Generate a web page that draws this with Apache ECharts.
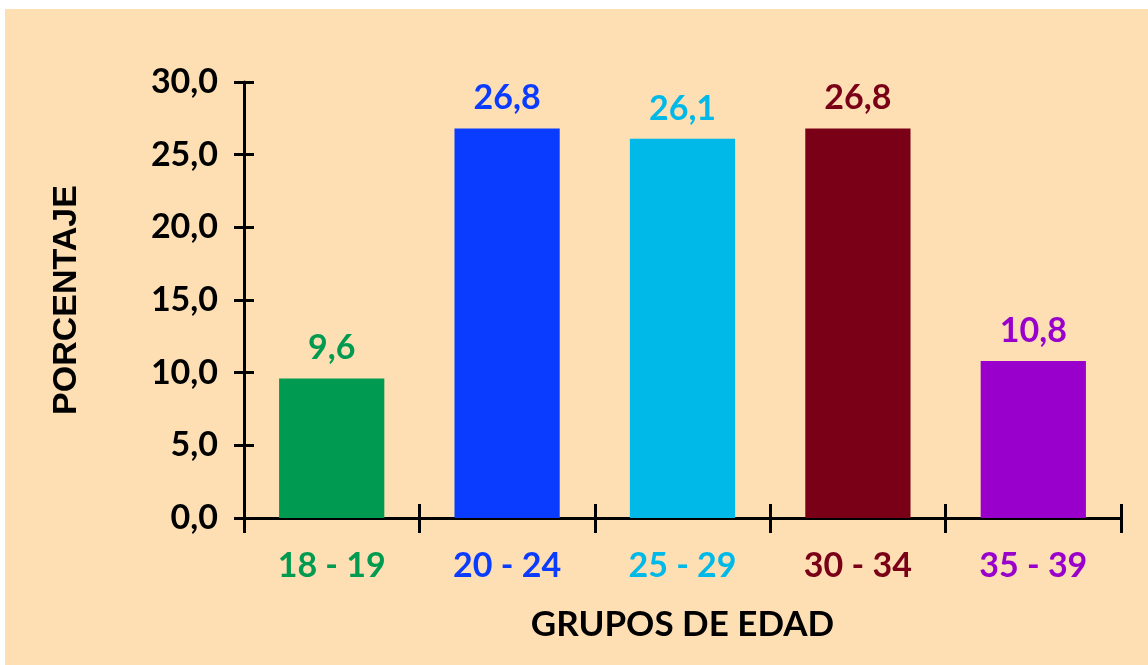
<!DOCTYPE html>
<html>
<head>
<meta charset="utf-8">
<script src="https://cdn.jsdelivr.net/npm/echarts@6/dist/echarts.min.js"></script>
<style>
  html, body { margin: 0; padding: 0; background: #fff; }
  #chart { width: 1148px; height: 665px; }
</style>
</head>
<body>
<div id="chart"></div>
<script>
var categories = ['18 - 19', '20 - 24', '25 - 29', '30 - 34', '35 - 39']
var percentages = [9.6, 26.8, 26.1, 26.8, 10.8]
var barColors = ['#009B50', '#0A3CFF', '#00B9E8', '#7A0018', '#9900CC']

var fmt = function (v) {
  return Number(v).toFixed(1).replace('.', ',')
}

var chart = echarts.init(document.getElementById('chart'))
var labelFont = { fontFamily: 'Lato', fontWeight: 'bold', fontSize: 34 }

var option = {
  backgroundColor: '#ffffff',
  animation: false,
  graphic: [
    {
      type: 'rect',
      z: -10,
      shape: { x: 5, y: 9, width: 1143, height: 656 },
      style: { fill: '#FDDFB3' }
    }
  ],
  grid: { left: 244, top: 82, right: 27, bottom: 147 },
  xAxis: [
    {
      type: 'category',
      data: categories,
      position: 'bottom',
      axisLine: { lineStyle: { color: '#000', width: 3 } },
      axisTick: { show: true, inside: false, length: 15, lineStyle: { color: '#000', width: 3 } },
      axisLabel: Object.assign({
        margin: 31,
        color: function (value, index) {
          return barColors[index]
        }
      }, labelFont),
      name: 'GRUPOS DE EDAD',
      nameLocation: 'middle',
      nameGap: 89,
      nameTextStyle: { fontFamily: 'Lato', fontWeight: 'bold', fontSize: 35, color: '#000' }
    },
    {
      type: 'category',
      data: categories,
      position: 'bottom',
      axisLine: { show: false },
      axisTick: { show: true, inside: true, length: 14, lineStyle: { color: '#000', width: 3 } },
      axisLabel: { show: false }
    }
  ],
  yAxis: [
    {
      type: 'value',
      min: 0,
      max: 30,
      interval: 5,
      splitLine: { show: false },
      axisLine: { show: true, lineStyle: { color: '#000', width: 3 } },
      axisTick: { show: true, inside: false, length: 10, lineStyle: { color: '#000', width: 3 } },
      axisLabel: Object.assign({ margin: 26, color: '#000', formatter: fmt }, labelFont),
      name: 'PORCENTAJE',
      nameLocation: 'middle',
      nameRotate: 90,
      nameGap: 160,
      nameTextStyle: { fontFamily: 'Liberation Sans', fontWeight: 'bold', fontSize: 34, color: '#000' }
    },
    {
      type: 'value',
      min: 0,
      max: 30,
      interval: 5,
      position: 'left',
      splitLine: { show: false },
      axisLine: { show: false },
      axisTick: { show: true, inside: true, length: 10, lineStyle: { color: '#000', width: 3 } },
      axisLabel: { show: false }
    }
  ],
  series: [
    {
      name: 'Porcentaje',
      type: 'bar',
      barWidth: '60%',
      data: percentages.map(function (v, i) {
        return {
          value: v,
          itemStyle: { color: barColors[i] },
          label: { color: barColors[i] }
        }
      }),
      label: Object.assign({
        show: true,
        position: 'top',
        distance: 13,
        formatter: function (p) {
          return fmt(p.value)
        }
      }, labelFont)
    }
  ]
}

chart.setOption(option)
</script>
</body>
</html>
